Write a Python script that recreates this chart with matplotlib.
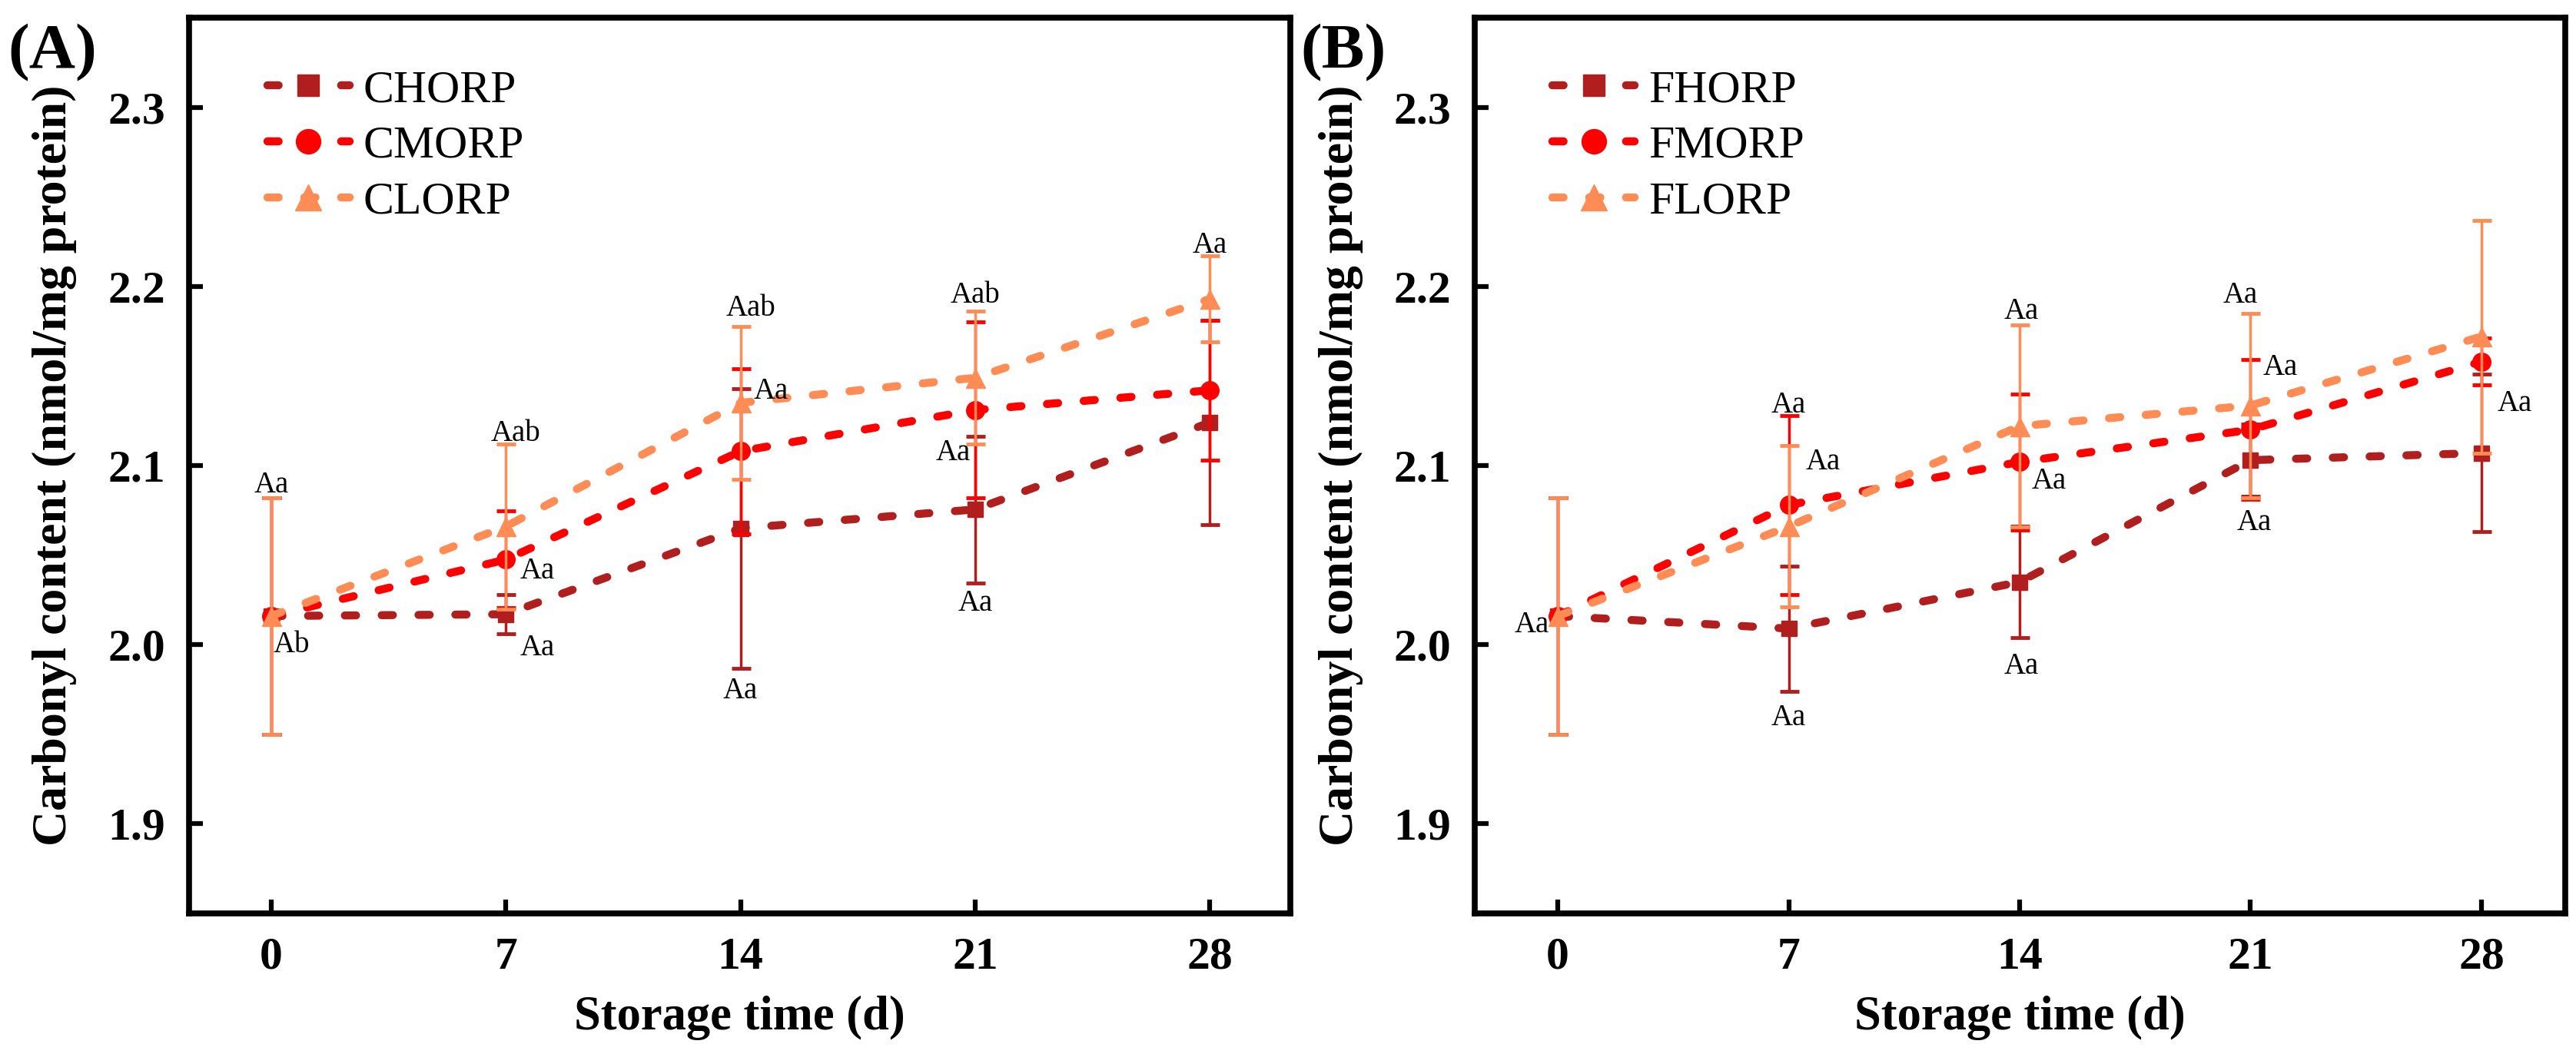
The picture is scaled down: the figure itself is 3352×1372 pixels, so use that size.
import matplotlib
matplotlib.use("Agg")
import matplotlib.pyplot as plt

plt.rcParams["font.family"] = ["Liberation Serif", "DejaVu Serif"]

days = [0, 7, 14, 21, 28]
y_ticks = [1.9, 2.0, 2.1, 2.2, 2.3]

# panel A (C* samples)
chorp = [2.016, 2.017, 2.065, 2.0755, 2.124]
chorp_sd = [0.066, 0.011, 0.078, 0.041, 0.057]
cmorp = [2.016, 2.0475, 2.108, 2.131, 2.142]
cmorp_sd = [0.066, 0.027, 0.046, 0.049, 0.039]
clorp = [2.016, 2.066, 2.135, 2.149, 2.193]
clorp_sd = [0.066, 0.046, 0.0425, 0.037, 0.024]

# panel B (F* samples)
fhorp = [2.016, 2.009, 2.035, 2.103, 2.107]
fhorp_sd = [0.066, 0.035, 0.031, 0.020, 0.044]
fmorp = [2.016, 2.078, 2.102, 2.120, 2.158]
fmorp_sd = [0.066, 0.050, 0.038, 0.039, 0.013]
florp = [2.016, 2.066, 2.122, 2.1335, 2.172]
florp_sd = [0.066, 0.045, 0.0565, 0.0515, 0.065]

# significance letters
lab_a_x = [0, 0.6, 7.3, 7.95, 7.95, 14.3, 14.9, 14.0, 21.0, 20.35, 21.0, 28.0]
lab_a_y = [2.089, 2.000, 2.118, 2.041, 1.998, 2.1875, 2.1415, 1.974, 2.195, 2.107, 2.023, 2.223]
lab_a_txt = ["Aa", "Ab", "Aab", "Aa", "Aa", "Aab", "Aa", "Aa", "Aab", "Aa", "Aa", "Aa"]

lab_b_x = [-0.8, 7.0, 8.05, 7.0, 14.05, 14.9, 14.05, 20.7, 21.9, 21.1, 29.0]
lab_b_y = [2.011, 2.1335, 2.102, 1.959, 2.186, 2.091, 1.988, 2.195, 2.1545, 2.068, 2.1345]
lab_b_txt = ["Aa"] * 11

colors = ["#B01E1E", "#FF0000", "#FF8C55"]
markers = ["s", "o", "^"]
msizes = [15, 17, 18]


def draw_panel(ax, series, sds, names, lab_x, lab_y, lab_txt, xlim):
    for vals, sd, name, c, m, ms in zip(series, sds, names, colors, markers, msizes):
        ax.errorbar(days, vals, yerr=sd, fmt="none", ecolor=c,
                    elinewidth=2.5, capsize=9, capthick=3.5)
        ax.plot(days, vals, color=c, lw=7.5, dashes=(1.4, 3.2),
                dash_capstyle="round", marker=m, ms=ms, label=name)
    for x, y, t in zip(lab_x, lab_y, lab_txt):
        ax.text(x, y, t, ha="center", va="center", fontsize=28)

    ax.set_xlim(*xlim)
    ax.set_ylim(1.85, 2.35)
    ax.set_xticks(days)
    ax.set_yticks(y_ticks)
    ax.set_yticklabels([f"{v:.1f}" for v in y_ticks])
    ax.tick_params(direction="in", length=13, width=4.5, pad=22,
                   labelsize=43)
    for lab in ax.get_xticklabels() + ax.get_yticklabels():
        lab.set_fontweight("bold")
    for sp in ax.spines.values():
        sp.set_linewidth(5.5)

    ax.set_xlabel("Storage time (d)", fontsize=45, fontweight="bold")
    ax.set_ylabel("Carbonyl content (nmol/mg protein)", fontsize=46,
                  fontweight="bold")
    ax.yaxis.set_label_coords(-0.102, 0.5)
    ax.xaxis.set_label_coords(0.5, -0.092)

    leg = ax.legend(loc="upper left", bbox_to_anchor=(0.05, 0.968),
                    frameon=False, fontsize=43, handlelength=1.8,
                    handletextpad=0.3, labelspacing=0.3, borderpad=0,
                    markerscale=1.35)
    return leg


fig = plt.figure(figsize=(33.52, 13.72), dpi=100)
ax_a = fig.add_axes([0.0734, 0.1334, 0.4275, 0.8498])
ax_b = fig.add_axes([0.5725, 0.1334, 0.4233, 0.8498])

draw_panel(ax_a, [chorp, cmorp, clorp], [chorp_sd, cmorp_sd, clorp_sd],
           ["CHORP", "CMORP", "CLORP"], lab_a_x, lab_a_y, lab_a_txt,
           (-2.45, 30.4))
draw_panel(ax_b, [fhorp, fmorp, florp], [fhorp_sd, fmorp_sd, florp_sd],
           ["FHORP", "FMORP", "FLORP"], lab_b_x, lab_b_y, lab_b_txt,
           (-2.52, 30.54))

fig.text(0.003, 0.950, "(A)", fontsize=60, fontweight="bold", va="center")
fig.text(0.505, 0.950, "(B)", fontsize=60, fontweight="bold", va="center")

fig.savefig("out.png", dpi=100)
